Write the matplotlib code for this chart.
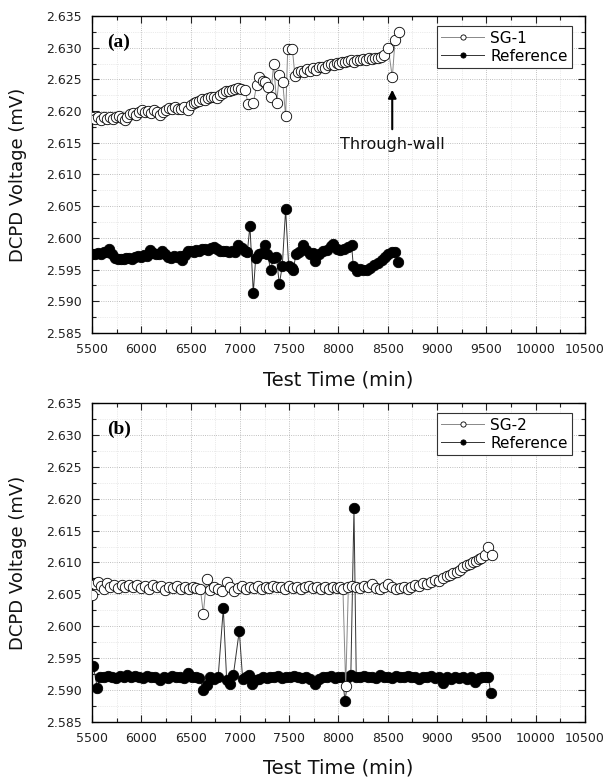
import matplotlib
matplotlib.use('Agg')
import matplotlib.pyplot as plt
from matplotlib.ticker import MultipleLocator, FormatStrFormatter

# panel (a) SG-1
sg1_t = [5500, 5530, 5560, 5590, 5620, 5650, 5680, 5710, 5740, 5770, 5800, 5830, 5860, 5890,
         5920, 5950, 5980, 6010, 6040, 6070, 6100, 6130, 6160, 6190, 6220, 6250, 6280, 6310,
         6340, 6370, 6400, 6430, 6470, 6500, 6530, 6560, 6590, 6620, 6650, 6680, 6710, 6740,
         6770, 6800, 6830, 6860, 6890, 6920, 6950, 6980, 7010, 7052, 7085, 7136, 7170, 7194,
         7230, 7255, 7288, 7312, 7342, 7373, 7400, 7434, 7464, 7485, 7532, 7559, 7590, 7620,
         7650, 7680, 7710, 7740, 7770, 7800, 7830, 7860, 7890, 7920, 7950, 7980, 8010, 8040,
         8070, 8100, 8130, 8160, 8190, 8220, 8250, 8280, 8310, 8340, 8370, 8400, 8430, 8460,
         8505, 8546, 8573, 8614]
sg1_v = [2.6190, 2.6187, 2.6191, 2.6186, 2.6190, 2.6188, 2.6191, 2.6188, 2.6190, 2.6192, 2.6189,
         2.6186, 2.6191, 2.6195, 2.6197, 2.6194, 2.6199, 2.6202, 2.6198, 2.6200, 2.6197, 2.6201,
         2.6199, 2.6194, 2.6199, 2.6202, 2.6205, 2.6203, 2.6206, 2.6204, 2.6203, 2.6207, 2.6201,
         2.6210, 2.6212, 2.6214, 2.6216, 2.6219, 2.6217, 2.6221, 2.6222, 2.6223, 2.6220, 2.6226,
         2.6228, 2.6231, 2.6232, 2.6233, 2.6235, 2.6236, 2.6235, 2.6233, 2.6211, 2.6212, 2.6241,
         2.6254, 2.6247, 2.6246, 2.6238, 2.6222, 2.6274, 2.6213, 2.6257, 2.6246, 2.6192, 2.6298,
         2.6298, 2.6255, 2.6262, 2.6264, 2.6262, 2.6266, 2.6264, 2.6268, 2.6265, 2.6269, 2.6270,
         2.6268, 2.6272, 2.6274, 2.6273, 2.6276, 2.6275, 2.6278, 2.6277, 2.6279, 2.6280, 2.6278,
         2.6281, 2.6280, 2.6282, 2.6281, 2.6283, 2.6282, 2.6284, 2.6283, 2.6286, 2.6288, 2.6299,
         2.6253, 2.6312, 2.6324]

# panel (a) reference
refa_t = [5500, 5530, 5560, 5590, 5620, 5650, 5670, 5700, 5730, 5760, 5790, 5820, 5850, 5880,
          5910, 5940, 5970, 6000, 6030, 6060, 6088, 6120, 6150, 6180, 6210, 6240, 6270, 6300,
          6330, 6360, 6390, 6409, 6440, 6470, 6500, 6530, 6560, 6590, 6620, 6650, 6680, 6710,
          6740, 6770, 6800, 6830, 6860, 6890, 6920, 6950, 6984, 7020, 7050, 7075, 7102, 7136,
          7160, 7190, 7220, 7255, 7280, 7312, 7340, 7370, 7400, 7430, 7464, 7495, 7525, 7541,
          7570, 7600, 7643, 7675, 7710, 7740, 7761, 7800, 7840, 7880, 7920, 7947, 7980, 8020,
          8060, 8100, 8133, 8150, 8184, 8220, 8250, 8285, 8320, 8360, 8400, 8437, 8470, 8505,
          8539, 8575, 8606]
refa_v = [2.5975, 2.5974, 2.5976, 2.5975, 2.5977, 2.5978, 2.5982, 2.5975, 2.5968, 2.5966, 2.5967,
          2.5966, 2.5969, 2.5968, 2.5967, 2.5970, 2.5971, 2.5970, 2.5973, 2.5972, 2.5981, 2.5976,
          2.5975, 2.5974, 2.5980, 2.5974, 2.5970, 2.5969, 2.5971, 2.5970, 2.5972, 2.5965, 2.5973,
          2.5980, 2.5979, 2.5978, 2.5981, 2.5979, 2.5982, 2.5983, 2.5981, 2.5984, 2.5985, 2.5982,
          2.5980, 2.5979, 2.5980, 2.5977, 2.5979, 2.5978, 2.5989, 2.5984, 2.5980, 2.5977, 2.6019,
          2.5913, 2.5968, 2.5975, 2.5976, 2.5988, 2.5974, 2.5950, 2.5968, 2.5970, 2.5927, 2.5956,
          2.6045, 2.5955, 2.5952, 2.5950, 2.5975, 2.5978, 2.5989, 2.5981, 2.5975, 2.5976, 2.5964,
          2.5975, 2.5979, 2.5981, 2.5987, 2.5991, 2.5983, 2.5981, 2.5982, 2.5985, 2.5988, 2.5956,
          2.5948, 2.5951, 2.5950, 2.5949, 2.5953, 2.5957, 2.5960, 2.5965, 2.5970, 2.5974, 2.5977,
          2.5978, 2.5962]

# panel (b) SG-2
sg2_t = [5500, 5530, 5560, 5590, 5620, 5650, 5680, 5720, 5760, 5800, 5840, 5880, 5920, 5960,
         6000, 6040, 6080, 6120, 6160, 6200, 6240, 6280, 6320, 6360, 6400, 6440, 6480, 6520,
         6560, 6600, 6629, 6663, 6700, 6740, 6780, 6820, 6866, 6900, 6940, 6980, 7020, 7060,
         7100, 7140, 7180, 7220, 7260, 7300, 7340, 7380, 7420, 7460, 7500, 7540, 7580, 7620,
         7660, 7700, 7740, 7780, 7820, 7860, 7900, 7940, 7980, 8020, 8045, 8073, 8100, 8140,
         8180, 8220, 8260, 8300, 8340, 8380, 8420, 8460, 8500, 8540, 8580, 8620, 8660, 8700,
         8740, 8780, 8820, 8860, 8900, 8940, 8980, 9020, 9063, 9097, 9130, 9165, 9200, 9232,
         9265, 9300, 9330, 9360, 9390, 9420, 9450, 9486, 9519, 9553]
sg2_v = [2.6049, 2.6066, 2.6070, 2.6063, 2.6058, 2.6068, 2.6062, 2.6065, 2.6060, 2.6064, 2.6061,
         2.6065, 2.6062, 2.6064, 2.6060, 2.6063, 2.6058, 2.6064, 2.6061, 2.6063, 2.6057, 2.6062,
         2.6060, 2.6063, 2.6059, 2.6062, 2.6058, 2.6061, 2.6060, 2.6058, 2.6020, 2.6074, 2.6057,
         2.6062, 2.6059, 2.6056, 2.6070, 2.6061, 2.6055, 2.6060, 2.6063, 2.6058, 2.6062, 2.6060,
         2.6063, 2.6059, 2.6062, 2.6060, 2.6063, 2.6061, 2.6062, 2.6059, 2.6063, 2.6060, 2.6062,
         2.6058, 2.6061, 2.6063, 2.6060, 2.6062, 2.6058, 2.6061, 2.6059, 2.6062, 2.6060, 2.6062,
         2.6058, 2.5906, 2.6061, 2.6063, 2.6062, 2.6060, 2.6063, 2.6061, 2.6066, 2.6060, 2.6059,
         2.6062, 2.6067, 2.6061, 2.6058, 2.6060, 2.6062, 2.6059, 2.6062, 2.6065, 2.6063, 2.6068,
         2.6066, 2.6070, 2.6072, 2.6071, 2.6075, 2.6078, 2.6080, 2.6083, 2.6085, 2.6088, 2.6093,
         2.6096, 2.6098, 2.6100, 2.6103, 2.6105, 2.6107, 2.6112, 2.6124, 2.6112]

# panel (b) reference
refb_t = [5513, 5554, 5580, 5620, 5660, 5700, 5740, 5780, 5820, 5860, 5900, 5940, 5980, 6020,
          6060, 6100, 6140, 6190, 6230, 6270, 6310, 6350, 6390, 6430, 6477, 6510, 6550, 6590,
          6629, 6663, 6700, 6740, 6780, 6832, 6866, 6900, 6934, 6994, 7028, 7060, 7090, 7119,
          7150, 7190, 7230, 7270, 7310, 7350, 7390, 7430, 7470, 7510, 7550, 7590, 7630, 7670,
          7710, 7760, 7800, 7840, 7880, 7920, 7960, 8000, 8040, 8066, 8100, 8125, 8157, 8180,
          8220, 8260, 8300, 8340, 8380, 8420, 8460, 8500, 8540, 8580, 8620, 8660, 8700, 8740,
          8780, 8820, 8860, 8900, 8940, 8980, 9020, 9062, 9100, 9140, 9180, 9220, 9260, 9300,
          9340, 9383, 9420, 9460, 9500, 9520, 9543]
refb_v = [2.5938, 2.5904, 2.5921, 2.5920, 2.5922, 2.5921, 2.5919, 2.5922, 2.5920, 2.5923, 2.5921,
          2.5922, 2.5920, 2.5919, 2.5922, 2.5921, 2.5920, 2.5916, 2.5921, 2.5919, 2.5922, 2.5920,
          2.5921, 2.5919, 2.5926, 2.5920, 2.5921, 2.5919, 2.5900, 2.5908, 2.5920, 2.5917, 2.5921,
          2.6028, 2.5916, 2.5910, 2.5924, 2.5993, 2.5917, 2.5921, 2.5923, 2.5910, 2.5915, 2.5918,
          2.5920, 2.5919, 2.5921, 2.5920, 2.5922, 2.5919, 2.5921, 2.5920, 2.5922, 2.5921, 2.5919,
          2.5921, 2.5918, 2.5910, 2.5917, 2.5921, 2.5920, 2.5922, 2.5919, 2.5921, 2.5920, 2.5883,
          2.5921, 2.5923, 2.6185, 2.5921, 2.5920, 2.5922, 2.5920, 2.5921, 2.5919, 2.5923, 2.5920,
          2.5921, 2.5919, 2.5922, 2.5920, 2.5921, 2.5922, 2.5920, 2.5921, 2.5918, 2.5920, 2.5921,
          2.5922, 2.5919, 2.5921, 2.5911, 2.5920, 2.5918, 2.5920, 2.5919, 2.5921, 2.5918, 2.5920,
          2.5913, 2.5919, 2.5921, 2.5920, 2.5921, 2.5895]

plt.rcParams['font.family'] = 'DejaVu Sans'

fig = plt.figure(figsize=(6.05, 7.8), dpi=100)
ax_a = fig.add_axes([0.152, 0.5731, 0.815, 0.4064])
ax_b = fig.add_axes([0.152, 0.0744, 0.815, 0.409])


def draw_panel(ax, sg_t, sg_v, ref_t, ref_v, sg_name, tag):
    ax.plot(ref_t, ref_v, '-', color='#333333', lw=0.7, marker='o', ms=7.5,
            mfc='black', mec='black', mew=0.6, label='Reference', zorder=3)
    ax.plot(sg_t, sg_v, '-', color='#888888', lw=0.7, marker='o', ms=7.5,
            mfc='white', mec='black', mew=0.6, label=sg_name, zorder=4)
    ax.set_xlim(5500, 10500)
    ax.set_ylim(2.585, 2.635)
    ax.xaxis.set_major_locator(MultipleLocator(500))
    ax.xaxis.set_minor_locator(MultipleLocator(250))
    ax.yaxis.set_major_locator(MultipleLocator(0.005))
    ax.yaxis.set_minor_locator(MultipleLocator(0.0025))
    ax.yaxis.set_major_formatter(FormatStrFormatter('%.3f'))
    ax.tick_params(which='both', direction='in', top=True, right=True, labelsize=9,
                   colors='#222222', width=0.8)
    ax.tick_params(which='major', length=5, pad=7)
    ax.tick_params(which='minor', length=3)
    ax.grid(which='major', ls=':', color='#aaaaaa', lw=0.6)
    ax.grid(which='minor', ls=':', color='#d8d8d8', lw=0.5)
    ax.set_axisbelow(True)
    for s in ax.spines.values():
        s.set_linewidth(1.0)
    ax.set_xlabel('Test Time (min)', fontsize=14, color='#111111')
    ax.set_ylabel('DCPD Voltage (mV)', fontsize=13, color='#111111')
    ax.yaxis.set_label_coords(-0.132, 0.5)
    ax.text(0.03, 0.918, tag, transform=ax.transAxes, fontsize=14, fontweight='bold',
            family='Liberation Serif', va='center', ha='left')
    h, l = ax.get_legend_handles_labels()
    leg = ax.legend(h[::-1], l[::-1], loc='upper right', bbox_to_anchor=(0.974, 0.968),
                    borderaxespad=0, fontsize=11, fancybox=False, framealpha=1,
                    edgecolor='#333333', handlelength=2.8, markerscale=0.5,
                    borderpad=0.3, labelspacing=0.2, handletextpad=0.4)
    leg.get_frame().set_linewidth(0.8)


draw_panel(ax_a, sg1_t, sg1_v, refa_t, refa_v, 'SG-1', '(a)')
draw_panel(ax_b, sg2_t, sg2_v, refb_t, refb_v, 'SG-2', '(b)')
ax_a.xaxis.set_label_coords(0.5, -0.117)
ax_b.xaxis.set_label_coords(0.5, -0.113)

ax_a.annotate('', xy=(8545, 2.6238), xytext=(8545, 2.6167),
              arrowprops=dict(arrowstyle='-|>', color='black', lw=1.5, mutation_scale=12))
ax_a.text(8545, 2.6147, 'Through-wall', fontsize=11.5, ha='center', va='center',
          color='#111111')

fig.savefig('out.png', dpi=100)
